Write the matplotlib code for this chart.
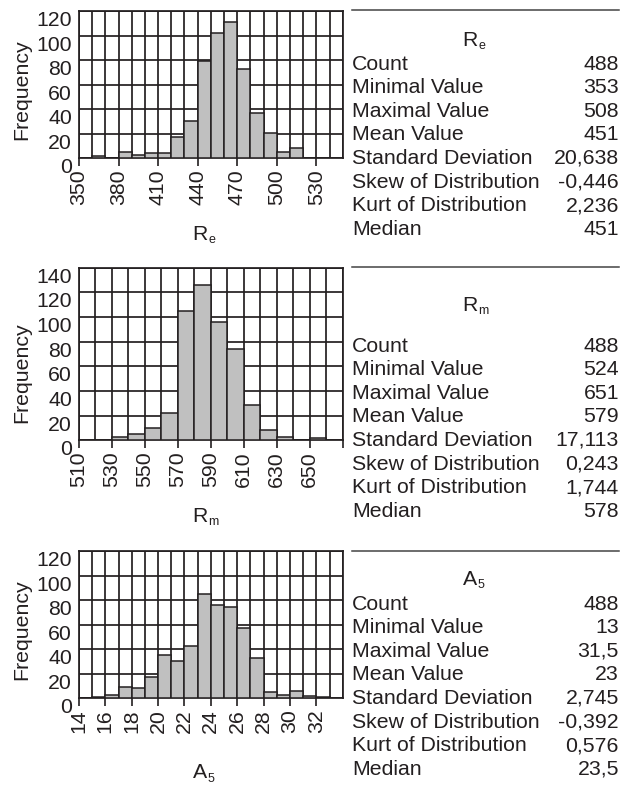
import matplotlib
matplotlib.use("Agg")
import matplotlib.pyplot as plt
from matplotlib.lines import Line2D

plt.rcParams['font.family'] = ['Liberation Sans', 'DejaVu Sans']

W, H = 630, 785
INK = '#231f20'
BAR = '#c0c0c0'
FS = 15.3

# histogram data (left bin edges and counts)
re_left = [360, 370, 380, 390, 400, 410, 420, 430, 440, 450, 460, 470, 480, 490, 500, 510]
re_counts = [2, 0, 5, 3, 4, 4, 17, 30, 79, 102, 111, 73, 37, 21, 5, 8]

rm_left = [530, 540, 550, 560, 570, 580, 590, 600, 610, 620, 630, 640, 650]
rm_counts = [3, 5, 10, 22, 105, 126, 96, 74, 29, 8, 3, 0, 2]

a5_left = [14, 15, 16, 17, 18, 19, 20, 21, 22, 23, 24, 25, 26, 27, 28, 29, 30, 31, 32]
a5_counts = [0.6, 1, 3, 9, 8, 17, 35, 30, 43, 85, 76, 74, 57, 33, 5, 3, 6, 2, 1]

# summary statistics
stat_labels = ['Count', 'Minimal Value', 'Maximal Value', 'Mean Value',
               'Standard Deviation', 'Skew of Distribution', 'Kurt of Distribution', 'Median']
re_stats = ['488', '353', '508', '451', '20,638', '-0,446', '2,236', '451']
rm_stats = ['488', '524', '651', '579', '17,113', '0,243', '1,744', '578']
a5_stats = ['488', '13', '31,5', '23', '2,745', '-0,392', '0,576', '23,5']


def fx(px):
    return px / W


def fy(py):
    return 1 - py / H


fig = plt.figure(figsize=(W / 100, H / 100), dpi=100)
renderer = fig.canvas.get_renderer()


def sub_label(xc, base, main, sub):
    # main letter plus a small lowered subscript, centred as a whole on xc
    t = fig.text(fx(xc - 3), fy(base), main, fontsize=FS, ha='center',
                 va='baseline', color=INK)
    bb = t.get_window_extent(renderer)
    fig.text(bb.x1 / W + 0.5 / W, fy(base + 3.3), sub, fontsize=9, ha='left',
             va='baseline', color=INK)


panels = [
    dict(top=11, bot=158.3, left=re_left, counts=re_counts, w=10, xlim=(350, 550),
         xt=list(range(350, 531, 30)), step=10, ymax=120, sym=('R', 'e'),
         stats=re_stats, xl_b=240, yl_y=90, line_y=10, title_b=45.5, row0=64),
    dict(top=267.7, bot=440.3, left=rm_left, counts=rm_counts, w=10, xlim=(510, 670),
         xt=list(range(510, 671, 20)), step=10, ymax=140, sym=('R', 'm'),
         stats=rm_stats, xl_b=522, yl_y=373, line_y=266.7, title_b=311, row0=346),
    dict(top=551, bot=698.3, left=a5_left, counts=a5_counts, w=1, xlim=(14, 34),
         xt=list(range(14, 33, 2)), step=1, ymax=120, sym=('A', '5'),
         stats=a5_stats, xl_b=778.5, yl_y=630, line_y=550.7, title_b=585, row0=604),
]

x0, x1 = 79, 342.7
for p in panels:
    ax = fig.add_axes([fx(x0), fy(p['bot']), fx(x1 - x0), (p['bot'] - p['top']) / H])
    ax.bar(p['left'], p['counts'], width=p['w'], align='edge', color=BAR,
           edgecolor=INK, linewidth=1.1, zorder=3)
    ax.set_xlim(*p['xlim'])
    ax.set_ylim(0, p['ymax'])
    lo, hi = p['xlim']
    g = lo
    while g <= hi + 1e-9:
        ax.axvline(g, color=INK, lw=1.25, zorder=1)
        g += p['step']
    for yv in range(0, p['ymax'] + 1, 20):
        ax.axhline(yv, color=INK, lw=1.25, zorder=1)
    ax.set_xticks(p['xt'])
    ax.set_xticklabels([str(v) if v < hi else '' for v in p['xt']], rotation=90)
    ax.set_yticks(range(0, p['ymax'] + 1, 20))
    ax.tick_params(axis='x', length=6, width=1.2, color=INK, labelsize=FS, pad=2,
                   labelcolor=INK)
    ax.tick_params(axis='y', length=0, labelsize=FS, pad=5, labelcolor=INK)
    for lab in ax.get_yticklabels():
        lab.set_va('top')
    for s in ax.spines.values():
        s.set_color(INK)
        s.set_linewidth(1.25)

    fig.text(fx(22), fy(p['yl_y']), 'Frequency', rotation=90, fontsize=FS,
             ha='center', va='center', color=INK)
    sub_label(203, p['xl_b'], *p['sym'])

    # statistics block
    fig.add_artist(Line2D([fx(352), fx(619)], [fy(p['line_y'])] * 2, color='#444444', lw=1.1))
    sub_label(473, p['title_b'], *p['sym'])
    for i, (lab, val) in enumerate(zip(stat_labels, p['stats'])):
        yy = p['row0'] + i * 23.6
        fig.text(fx(352), fy(yy), lab, fontsize=FS, ha='left', va='center', color=INK)
        fig.text(fx(619), fy(yy), val, fontsize=FS, ha='right', va='center', color=INK)

fig.savefig('out.png', dpi=100)
